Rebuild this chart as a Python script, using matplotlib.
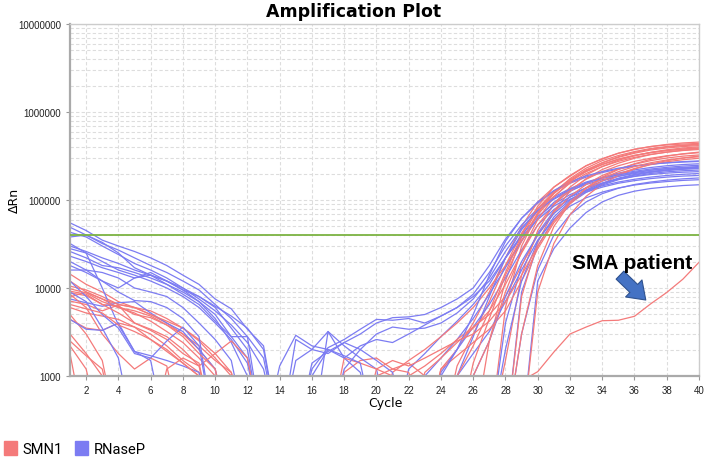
import numpy as np
import matplotlib
matplotlib.use('Agg')
import matplotlib.pyplot as plt
from matplotlib.patches import Patch

# values in thousands of dRn, cycles 1..40 ; L = below the plotted range
L = 0.2
cycles = list(range(1, 41))
threshold = 40000

smn1_curves = [
    [14.4, 11, 9, 7, 6, 5, 4, 3, 2.2, 1.5, 1.1, L, L,
     L, L, L, L, L, L, L, L, L, L,
     1.2, 2.0, 4.0, 9, 22, 50, 95, 140, 186, 245, 292, 340, 378, 405, 422, 432, 440],
    [10.5, 9.5, 8, 6.5, 6, 5.5, 4.5, 3.5, 2.5, 1.6, 1.0, L, L,
     L, L, L, L, 1.1, 1.5, 1.6, 1.2, 1.4, 1.0,
     L, 1.3, 3.0, 7, 18, 42, 80, 125, 170, 220, 265, 305, 340, 370, 390, 405, 415],
    [9.2, 8.5, 6.5, 6.2, 5, 4.6, 3.8, 3, 2, 1.2, L, L, L,
     L, L, L, L, L, L, L, L, L, L,
     L, L, L, 2.5, 12, 38, 78, 120, 165, 210, 252, 290, 320, 345, 365, 380, 392],
    [7.9, 9, 7.5, 6, 5.2, 4.2, 3.2, 2.4, 1.6, 1.0, L, L, L,
     L, L, L, L, L, L, L, 1.1, 1.5, 2.0,
     2.8, 4.0, 6, 10, 18, 35, 68, 110, 155, 200, 240, 275, 305, 330, 350, 365, 375],
    [7.1, 6.5, 5.5, 6.4, 4, 3.3, 2.6, 1.8, 1.4, L, L, L, L,
     L, L, L, L, L, L, L, L, L, L,
     L, L, L, L, 6, 30, 70, 120, 175, 230, 280, 320, 355, 385, 405, 420, 430],
    [4.4, 3.5, 3.3, 4, 3.6, 3.0, 2.2, 1.5, 1.1, L, L, L, L,
     L, L, L, L, L, L, L, L, L, 1.1,
     1.6, 2.4, 3.5, 5.5, 11, 25, 52, 88, 130, 172, 210, 245, 275, 298, 318, 333, 345],
    [2.2, 1.2, L, L, L, L, L, L, L, L, L, L, L,
     L, L, L, L, L, L, L, L, L, L,
     L, L, L, L, 1.5, 14, 45, 90, 140, 192, 240, 283, 318, 348, 372, 390, 402],
    [5, 3, 1.5, L, L, L, L, L, L, L, L, L, L,
     L, L, L, L, L, L, L, L, 1.0, 1.3,
     1.8, 2.6, 3.6, 5.0, 8, 18, 40, 72, 110, 150, 190, 225, 255, 280, 300, 315, 325],
    [8.5, 6, 3, 1.8, 1.2, 1.6, 1.3, L, L, L, L, L, L,
     L, L, L, L, L, L, L, L, L, L,
     L, L, L, L, L, 8, 33, 75, 125, 175, 222, 262, 298, 328, 350, 368, 382],
    [3, 1.8, 1.0, L, L, L, 1.2, 1.6, 1.3, 1.8, 2.5, 1.6, L,
     L, L, L, L, L, L, L, L, L, L,
     1.2, 1.7, 2.4, 3.4, 5.5, 12, 28, 55, 90, 128, 165, 198, 228, 252, 272, 287, 298],
    [12, 9, 7.5, 6.5, 6, 5, 4.2, 3.5, 2.6, 1.8, 1.1, L, L,
     L, L, L, L, L, L, L, L, L, L,
     L, L, L, L, L, 3, 18, 50, 92, 138, 182, 222, 258, 290, 315, 335, 350],
    [6, 5.2, 4.8, 4.4, 3.6, 2.6, 1.9, 1.4, 1.0, L, L, L, L,
     L, L, L, L, 1.6, 1.4, 1.2, 1.0, L, L,
     L, L, L, L, L, L, 9, 32, 68, 110, 152, 190, 225, 255, 280, 300, 316],
    [8.8, 8.2, 6.5, 5.2, 4.0, 3.4, 2.8, 2.0, 1.3, L, L, L, L,
     L, L, L, L, L, L, 1.0, 1.2, 1.1, L,
     L, 1.0, 2.2, 5.5, 15, 40, 85, 140, 190, 245, 295, 340, 375, 405, 428, 445, 455],
    [2.5, 1.7, 1.2, L, L, L, L, L, L, L, L, L, L,
     L, L, L, L, L, L, L, L, L, L,
     L, L, 1.0, 2.5, 9, 26, 60, 108, 160, 215, 265, 310, 348, 378, 400, 415, 425],
    [9.8, 8.8, 7.0, 6.0, 5.5, 4.8, 3.8, 2.8, 1.8, 1.2, L, L, L,
     L, L, L, L, L, L, L, L, L, L,
     L, L, 1.4, 4.5, 14, 34, 72, 118, 165, 212, 255, 292, 322, 346, 364, 378, 388],
    [1.8, L, L, L, L, L, L, L, L, L, L, L, L,
     L, L, L, L, L, L, 1.2, 1.5, 1.3, 1.6,
     2.0, 2.5, 3.0, 4.2, 7, 14, 30, 58, 95, 135, 175, 210, 240, 265, 285, 300, 310],
]

sma_patient = [6.5, 5.8, 5.2, 3.8, 3.2, 2.6, 2.0, 1.4, 1.0, L, L, L, L,
               L, L, L, L, L, L, L, L, L, L,
               L, L, L, L, L, 0.88, 1.12, 1.87, 3.0, 3.6, 4.25, 4.3, 4.77, 6.6, 8.9, 12.6, 19.6]

rnasep_curves = [
    [55, 45, 35, 30, 26, 22, 18, 14, 11, 7.5, 5.8, 3.4, 2.2,
     L, 1.5, 2.0, 1.8, 2.4, 3.0, 4.0, 4.6, 4.7, 5.0,
     6.0, 7.5, 10, 18, 36, 62, 92, 125, 155, 182, 205, 225, 242, 255, 265, 273, 278],
    [49, 40, 32, 27, 22, 18, 15, 12, 9.5, 6.5, 4.5, 2.8, 1.6,
     L, L, 1.2, 2.1, 2.6, 3.4, 4.4, 4.3, 4.5, 4.0,
     4.8, 6.0, 8.5, 15, 30, 52, 80, 108, 135, 160, 180, 198, 212, 225, 235, 243, 248],
    [43, 38, 30, 24, 19, 16, 13, 10, 7.5, 5.5, 3.8, 2.4, 1.2,
     L, L, L, L, L, L, L, L, L, L,
     L, 1.0, 2.8, 8, 22, 46, 75, 102, 128, 150, 170, 186, 200, 211, 220, 226, 230],
    [38, 40, 33, 25, 17, 14, 11, 8.5, 6.5, 4.2, 2.8, 1.6, L,
     1.3, 2.9, 2.2, 2.0, 1.6, 1.1, L, L, 1.2, 1.8,
     2.8, 4.2, 6.5, 11, 22, 40, 65, 90, 115, 137, 156, 172, 185, 195, 202, 207, 210],
    [28, 25, 20, 16, 14, 12, 10, 8, 6, 4.0, 2.6, 1.4, L,
     L, L, L, L, L, L, L, L, L, 1.0,
     1.6, 2.6, 4.5, 8.5, 17, 34, 62, 94, 125, 155, 180, 202, 220, 234, 245, 253, 258],
    [26, 22, 18, 17, 15, 13, 11, 9, 7, 5, 2.8, 2.8, L,
     L, 2.6, 2.0, 3.2, 2.2, 1.6, 1.2, L, L, L,
     1.1, 2.0, 3.6, 6.5, 13, 27, 52, 78, 102, 123, 140, 155, 166, 175, 182, 187, 190],
    [23, 20, 17, 15, 13, 14, 12, 9.5, 7, 4.5, 2.4, 1.0, L,
     L, L, L, L, L, L, L, L, L, L,
     L, L, L, L, 4, 18, 42, 75, 108, 138, 164, 186, 204, 218, 228, 235, 240],
    [16, 16, 15, 13, 10, 9, 8, 6, 4, 2.6, 1.5, L, L,
     L, L, 1.4, 1.9, 2.4, 2.0, 1.5, 1.1, L, L,
     L, 1.0, 1.8, 3.2, 7, 16, 35, 60, 85, 106, 123, 137, 148, 156, 162, 167, 170],
    [7.5, 6.8, 6.2, 6.8, 7.0, 5.2, 4.0, 3.2, 2.0, 1.2, L, L, L,
     L, L, L, L, L, L, L, L, L, L,
     L, L, L, L, L, 9, 30, 60, 92, 122, 148, 170, 187, 200, 209, 215, 219],
    [4.4, 3.4, 3.3, 4.0, 1.9, 1.7, 1.5, 1.3, 1.1, L, L, L, L,
     L, L, L, L, L, L, L, L, L, L,
     L, L, L, L, L, 3, 16, 40, 68, 95, 118, 136, 150, 160, 168, 174, 178],
    [32, 25, 10, 3.8, 1.9, 1.5, L, L, L, L, L, L, L,
     L, L, L, L, L, L, L, L, L, L,
     L, L, L, L, L, L, 12, 28, 48, 72, 95, 113, 126, 135, 141, 146, 149],
    [20, 16, 12, 10, 13, 15, 12, 9.5, 8, 6, 3.5, 2, L,
     L, L, L, L, L, L, L, L, L, L,
     1.0, 2.0, 5, 14, 34, 62, 95, 128, 160, 188, 210, 230, 245, 256, 264, 270, 274],
    [18, 15, 12, 9, 7.2, 7.0, 6, 4.5, 2.8, L, L, L, L,
     L, L, L, 3.2, 1.6, 2.2, 2.6, 2.4, 3.0, 3.8,
     4.8, 6.0, 8.0, 12, 22, 38, 60, 85, 108, 128, 145, 160, 172, 182, 190, 196, 200],
    [12, 8, 5, 3.5, 1.8, 1.6, 2.5, 3.6, 2.2, L, L, L, L,
     L, L, L, L, L, L, L, L, L, L,
     L, L, 1.0, 2.5, 8, 20, 40, 70, 100, 130, 155, 177, 195, 208, 219, 227, 233],
    [30, 26, 22, 19, 16, 14, 12, 10, 8, 6.2, 4.8, 3.5, 2.0,
     L, L, L, L, 1.2, 2.0, 3.0, 3.6, 3.4, 3.5,
     4.0, 5.2, 7.5, 13, 26, 48, 76, 104, 132, 156, 176, 193, 207, 218, 226, 232, 236],
    [9.0, 7.0, 3.5, 1.6, L, L, L, L, L, L, L, L, L,
     L, L, 1.0, 2.0, 1.7, 1.4, L, L, L, L,
     L, L, L, L, 2, 12, 34, 64, 96, 126, 152, 174, 192, 206, 216, 223, 228],
]

for c in smn1_curves + rnasep_curves + [sma_patient]:
    assert len(c) == 40, len(c)

red = '#F47A7A'
blue = '#7C7CF2'

fig = plt.figure(figsize=(7.08, 4.60), dpi=100)
ax = fig.add_axes([70/708, 1-377/460, 629/708, 352/460])

n = max(len(smn1_curves), len(rnasep_curves))
for i in range(n):
    if i < len(rnasep_curves):
        ax.plot(cycles, np.array(rnasep_curves[i])*1000, color=blue, lw=0.9)
    if i < len(smn1_curves):
        ax.plot(cycles, np.array(smn1_curves[i])*1000, color=red, lw=0.9)
ax.plot(cycles, np.array(sma_patient)*1000, color=red, lw=0.9)

ax.axhline(threshold, color='#7CB342', lw=1.3, zorder=5)

ax.set_yscale('log')
ax.set_xlim(1, 40)
ax.set_ylim(1000, 1e7)
ax.set_xticks(range(2, 41, 2))
ax.set_yticks([1e3, 1e4, 1e5, 1e6, 1e7])
ax.set_yticklabels(['1000', '10000', '100000', '1000000', '10000000'])
ax.tick_params(labelsize=7, length=3, color='#999999', width=0.8, labelcolor='#222222')
for lab in ax.get_xticklabels() + ax.get_yticklabels():
    lab.set_family('Liberation Sans')
ax.grid(True, which='major', axis='both', ls=(0, (3, 2)), color='#dddddd', lw=0.8)
ax.grid(True, which='minor', axis='y', ls=(0, (3, 2)), color='#dddddd', lw=0.8)
ax.tick_params(which='minor', length=0)
ax.set_axisbelow(True)
for s in ['left', 'bottom']:
    ax.spines[s].set_color('#aaaaaa')
    ax.spines[s].set_linewidth(1.6)
for s in ['top', 'right']:
    ax.spines[s].set_color('#cccccc')
    ax.spines[s].set_linewidth(1.0)

# annotation
ax.annotate('', xy=(36.7, 7300), xytext=(35.1, 14000),
            arrowprops=dict(arrowstyle='simple,head_width=0.85,head_length=0.6,tail_width=0.4',
                            mutation_scale=20, shrinkA=0, shrinkB=0,
                            fc='#4472C4', ec='#2F528F', lw=0.8))
ax.text(35.85, 19700, 'SMA patient', family='Liberation Sans', weight='bold',
        fontsize=15, ha='center', va='center')

fig.text(0.5, 1-12/460, 'Amplification Plot', ha='center', va='center',
         fontsize=12.5, weight='bold')
fig.text(14/708, 1-200/460, 'ΔRn', rotation=90, ha='center', va='center', fontsize=9)
fig.text(385/708, 1-403/460, 'Cycle', ha='center', va='center', fontsize=9)

handles = [Patch(color=red, label='SMN1'), Patch(color=blue, label='RNaseP')]
fig.legend(handles=handles, loc='lower left', bbox_to_anchor=(-0.013, -0.022), ncol=2,
           frameon=False, prop={'family': 'Roboto', 'size': 10.5}, handlelength=0.9,
           handleheight=1.1, handletextpad=0.4, columnspacing=0.8)

fig.savefig('out.png', dpi=100)
